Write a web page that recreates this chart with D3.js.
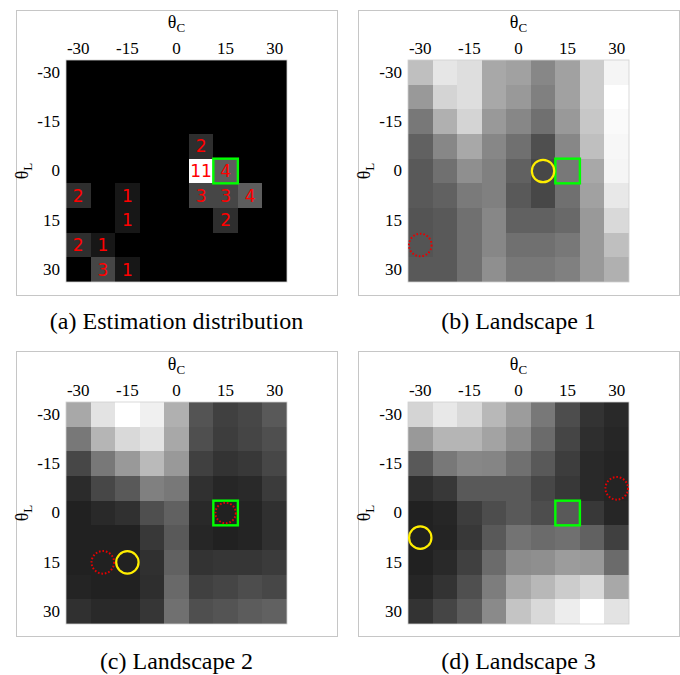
<!DOCTYPE html>
<html>
<head>
<meta charset="utf-8">
<script src="https://cdn.jsdelivr.net/npm/d3@7/dist/d3.min.js"></script>
<style>
  html, body { margin: 0; padding: 0; background: #fff; }
  svg { display: block; }
</style>
</head>
<body>
<script>
// ---------- data ----------
const thetaGrid = [-30, -22.5, -15, -7.5, 0, 7.5, 15, 22.5, 30];
const thetaTicks = [-30, -15, 0, 15, 30];
const captions = ["(a) Estimation distribution", "(b) Landscape 1", "(c) Landscape 2", "(d) Landscape 3"];

// rows: θL from -30 (top) to 30 (bottom); cols: θC from -30 to 30
const estimationCounts = [
  [0, 0, 0, 0, 0, 0, 0, 0, 0],
  [0, 0, 0, 0, 0, 0, 0, 0, 0],
  [0, 0, 0, 0, 0, 0, 0, 0, 0],
  [0, 0, 0, 0, 0, 2, 0, 0, 0],
  [0, 0, 0, 0, 0, 11, 4, 0, 0],
  [2, 0, 1, 0, 0, 3, 3, 4, 0],
  [0, 0, 1, 0, 0, 0, 2, 0, 0],
  [2, 1, 0, 0, 0, 0, 0, 0, 0],
  [0, 3, 1, 0, 0, 0, 0, 0, 0]
];

// landscape values, normalised 0 (black) .. 1 (white)
const landscape1 = [
  [0.75, 0.90, 0.87, 0.66, 0.63, 0.53, 0.63, 0.80, 0.96],
  [0.60, 0.83, 0.87, 0.66, 0.60, 0.50, 0.63, 0.80, 1.00],
  [0.47, 0.69, 0.83, 0.60, 0.53, 0.44, 0.60, 0.78, 0.98],
  [0.38, 0.53, 0.66, 0.53, 0.44, 0.31, 0.53, 0.75, 0.97],
  [0.35, 0.44, 0.56, 0.50, 0.38, 0.28, 0.47, 0.66, 0.96],
  [0.35, 0.38, 0.48, 0.50, 0.35, 0.28, 0.44, 0.63, 0.91],
  [0.33, 0.35, 0.44, 0.53, 0.38, 0.38, 0.41, 0.60, 0.85],
  [0.33, 0.35, 0.44, 0.53, 0.44, 0.44, 0.47, 0.60, 0.75],
  [0.35, 0.35, 0.44, 0.56, 0.47, 0.47, 0.50, 0.60, 0.69]
];
const landscape2 = [
  [0.66, 0.89, 1.00, 0.94, 0.69, 0.33, 0.25, 0.28, 0.35],
  [0.47, 0.71, 0.85, 0.89, 0.66, 0.31, 0.24, 0.27, 0.31],
  [0.28, 0.47, 0.60, 0.73, 0.60, 0.25, 0.20, 0.22, 0.28],
  [0.17, 0.28, 0.35, 0.50, 0.47, 0.19, 0.15, 0.16, 0.23],
  [0.13, 0.16, 0.19, 0.31, 0.38, 0.16, 0.13, 0.14, 0.19],
  [0.13, 0.13, 0.13, 0.22, 0.35, 0.15, 0.13, 0.14, 0.19],
  [0.13, 0.13, 0.13, 0.19, 0.38, 0.20, 0.21, 0.21, 0.23],
  [0.14, 0.13, 0.13, 0.18, 0.41, 0.25, 0.27, 0.30, 0.28],
  [0.19, 0.16, 0.16, 0.21, 0.44, 0.31, 0.33, 0.36, 0.38]
];
const landscape3 = [
  [0.83, 0.91, 0.85, 0.72, 0.61, 0.47, 0.30, 0.20, 0.16],
  [0.60, 0.71, 0.71, 0.64, 0.55, 0.42, 0.27, 0.18, 0.15],
  [0.35, 0.47, 0.53, 0.52, 0.44, 0.35, 0.24, 0.16, 0.14],
  [0.18, 0.22, 0.35, 0.35, 0.35, 0.28, 0.22, 0.16, 0.14],
  [0.13, 0.15, 0.24, 0.30, 0.35, 0.30, 0.35, 0.22, 0.15],
  [0.13, 0.14, 0.22, 0.35, 0.45, 0.42, 0.44, 0.38, 0.25],
  [0.13, 0.16, 0.25, 0.42, 0.55, 0.56, 0.61, 0.60, 0.42],
  [0.15, 0.20, 0.31, 0.49, 0.66, 0.72, 0.80, 0.85, 0.66],
  [0.20, 0.27, 0.36, 0.54, 0.77, 0.85, 0.93, 1.00, 0.89]
];

// markers: [θC, θL]
const trueAngle = [15, 0];
const yellowMarks = [null, [7.5, 0], [-15, 15], [-30, 7.5]];
const redMarks = [[], [[-30, 22.5]], [[15, 0], [-22.5, 15]], [[30, -7.5]]];

// ---------- layout ----------
const W = 680, H = 675;
const svg = d3.select("body").append("svg").attr("width", W).attr("height", H);

const panels = [
  { fx: 16, fy: 10, data: estimationCounts, counts: true },
  { fx: 358, fy: 10, data: landscape1 },
  { fx: 16, fy: 351, data: landscape2 },
  { fx: 358, fy: 351, data: landscape3 }
];
const frameW = 321, frameH = 285;
const mapW = 221, mapH = 222;
const offX = 50, offY = 50;

const x = d3.scaleBand().domain(thetaGrid).range([0, mapW]);
const y = d3.scaleBand().domain(thetaGrid).range([0, mapH]);

panels.forEach((p, pi) => {
  const frame = svg.append("g").attr("transform", `translate(${p.fx},${p.fy})`);
  frame.append("rect")
    .attr("x", 0.5).attr("y", 0.5)
    .attr("width", frameW).attr("height", frameH)
    .attr("fill", "none").attr("stroke", "#c6c6c6").attr("stroke-width", 1);

  const g = frame.append("g").attr("transform", `translate(${offX},${p.fy === 10 ? offY : offY + 1})`);

  const maxV = p.counts ? d3.max(p.data.flat()) : 1;
  const color = d3.scaleLinear().domain([0, maxV]).range(["#000", "#fff"]);

  const cells = [];
  p.data.forEach((row, ri) => row.forEach((v, ci) => cells.push({ l: thetaGrid[ri], c: thetaGrid[ci], v })));

  g.selectAll("rect.cell").data(cells).join("rect")
    .attr("class", "cell")
    .attr("shape-rendering", "crispEdges")
    .attr("x", d => Math.round(x(d.c))).attr("y", d => Math.round(y(d.l)))
    .attr("width", d => Math.round(x(d.c) + x.bandwidth()) - Math.round(x(d.c)))
    .attr("height", d => Math.round(y(d.l) + y.bandwidth()) - Math.round(y(d.l)))
    .attr("fill", d => color(d.v));

  g.append("rect").attr("x", 0).attr("y", 0).attr("width", mapW).attr("height", mapH)
    .attr("fill", "none").attr("stroke", "#d0d0d0").attr("stroke-width", 0.8);

  if (p.counts) {
    g.selectAll("text.cnt").data(cells.filter(d => d.v > 0)).join("text")
      .attr("class", "cnt")
      .attr("x", d => x(d.c) + x.bandwidth() / 2)
      .attr("y", d => y(d.l) + y.bandwidth() / 2)
      .attr("dy", "0.36em")
      .attr("text-anchor", "middle")
      .attr("font-family", "DejaVu Sans")
      .attr("font-size", 17)
      .attr("fill", "#f00")
      .text(d => d.v);
  }

  // axes
  const ax = g.append("g").call(d3.axisTop(x).tickValues(thetaTicks).tickSize(0).tickPadding(6).tickFormat(d => String(d)));
  const ay = g.append("g").call(d3.axisLeft(y).tickValues(thetaTicks).tickSize(0).tickPadding(6).tickFormat(d => String(d)));
  [ax, ay].forEach(a => {
    a.select(".domain").remove();
    a.selectAll("text").attr("font-family", "Liberation Serif").attr("font-size", 17).attr("fill", "#000");
  });

  // axis titles
  const tx = g.append("text").attr("x", mapW / 2).attr("y", -32)
    .attr("text-anchor", "middle").attr("font-family", "Liberation Serif").attr("font-size", 18).attr("fill", "#000");
  tx.append("tspan").text("θ");
  tx.append("tspan").attr("font-size", 13).attr("dy", 4).text("C");

  const ty = g.append("text")
    .attr("transform", `translate(${-38},${mapH / 2}) rotate(-90)`)
    .attr("text-anchor", "middle").attr("font-family", "Liberation Serif").attr("font-size", 18).attr("fill", "#000");
  ty.append("tspan").text("θ");
  ty.append("tspan").attr("font-size", 13).attr("dy", 4).text("L");

  const cx = v => x(v) + x.bandwidth() / 2;
  const cy = v => y(v) + y.bandwidth() / 2;
  const isTrue = d => d[0] === trueAngle[0] && d[1] === trueAngle[1];

  // red dotted circles away from the true angle
  g.selectAll("circle.red").data(redMarks[pi].filter(d => !isTrue(d))).join("circle")
    .attr("class", "red")
    .attr("cx", d => cx(d[0])).attr("cy", d => cy(d[1]))
    .attr("r", 11.3)
    .attr("fill", "none").attr("stroke", "#e60000").attr("stroke-width", 2)
    .attr("stroke-dasharray", "1.6,1.9");

  // green true-angle box
  g.append("rect")
    .attr("x", x(trueAngle[0])).attr("y", y(trueAngle[1]))
    .attr("width", x.bandwidth()).attr("height", y.bandwidth())
    .attr("fill", "none").attr("stroke", "#00ff00").attr("stroke-width", 2.4);

  // red dotted circle on the true angle (inside the box)
  g.selectAll("circle.red2").data(redMarks[pi].filter(isTrue)).join("circle")
    .attr("class", "red2")
    .attr("cx", d => cx(d[0])).attr("cy", d => cy(d[1])).attr("r", 10.2)
    .attr("fill", "none").attr("stroke", "#e60000").attr("stroke-width", 2)
    .attr("stroke-dasharray", "1.6,1.9");

  if (yellowMarks[pi]) {
    g.append("circle")
      .attr("cx", cx(yellowMarks[pi][0])).attr("cy", cy(yellowMarks[pi][1]))
      .attr("r", 11.2)
      .attr("fill", "none").attr("stroke", "#ffee00").attr("stroke-width", 2.2);
  }

  // caption
  svg.append("text")
    .attr("x", p.fx + frameW / 2).attr("y", p.fy + frameH + (p.fy === 10 ? 34 : 33))
    .attr("text-anchor", "middle")
    .attr("font-family", "Liberation Serif").attr("font-size", 24).attr("fill", "#000")
    .text(captions[pi]);
});
</script>
</body>
</html>
